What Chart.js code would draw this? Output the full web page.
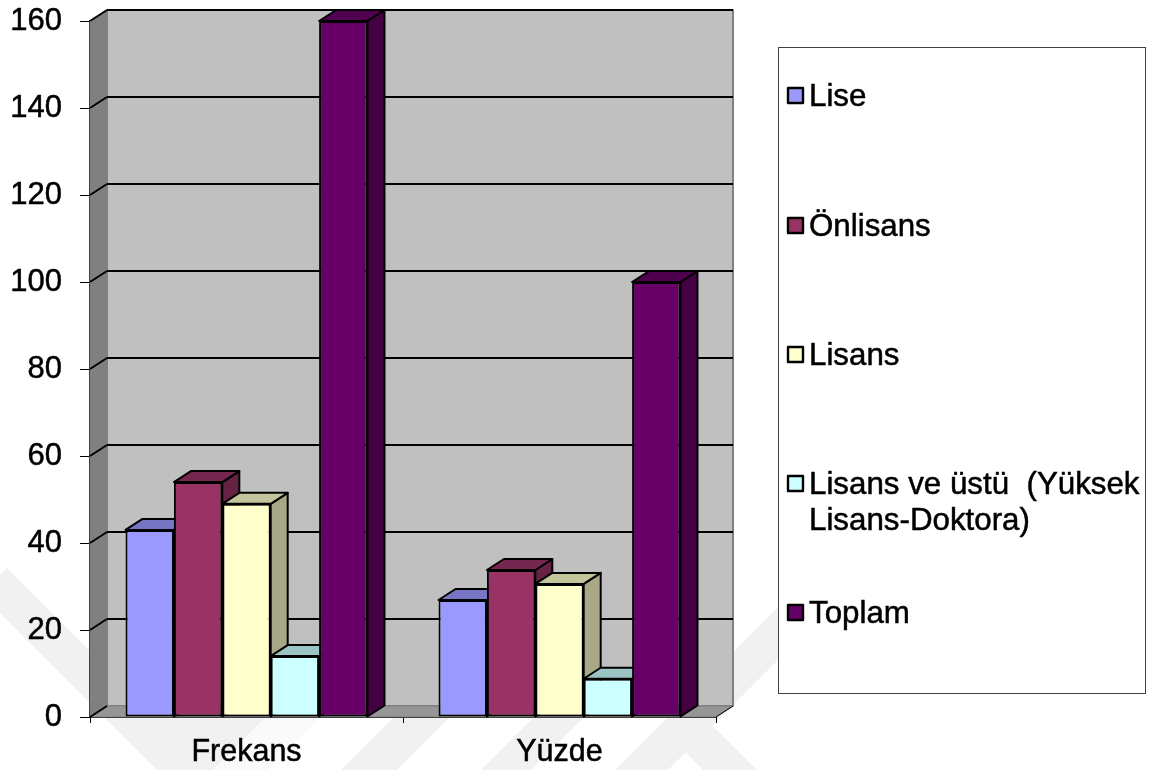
<!DOCTYPE html>
<html><head><meta charset="utf-8">
<style>html,body{margin:0;padding:0;background:#fff}#w{width:1158px;height:770px;position:relative}</style>
<script src="https://cdn.jsdelivr.net/npm/chart.js@4"></script>
</head><body><div id="w"><canvas id="c" width="1158" height="770"></canvas></div>
<script>
const categories = ['Frekans', 'Yüzde'];
const lise = [43, 26.9];
const onlisans = [54, 33.8];
const lisans = [49, 30.6];
const lisansUstu = [14, 8.8];
const toplam = [160, 100];
const seriesNames = ['Lise', 'Önlisans', 'Lisans', ['Lisans ve üstü  (Yüksek', 'Lisans-Doktora)'], 'Toplam'];
const seriesColors = ['#9999FF', '#993366', '#FFFFCC', '#CCFFFF', '#660066'];
const FONT = '"Liberation Sans", Arial, sans-serif';
const DX = 17, DY = -11;
const PLOT_TOP = 21;

function shade(hex, f) {
  const n = parseInt(hex.slice(1), 16);
  return 'rgb(' + [(n >> 16) & 255, (n >> 8) & 255, n & 255].map(v => Math.round(v * f)).join(',') + ')';
}
function poly(ctx, pts, fill, stroke, lw) {
  ctx.beginPath();
  pts.forEach((p, i) => i ? ctx.lineTo(p[0], p[1]) : ctx.moveTo(p[0], p[1]));
  ctx.closePath();
  if (fill) { ctx.fillStyle = fill; ctx.fill(); }
  if (stroke) { ctx.strokeStyle = stroke; ctx.lineWidth = lw; ctx.lineJoin = 'round'; ctx.stroke(); }
}
const plotTop = {
  id: 'plotTop',
  afterLayout(chart) {
    const a = chart.chartArea, y = chart.scales.y;
    a.top = PLOT_TOP; a.height = a.bottom - a.top;
    y.top = PLOT_TOP; y.height = y.bottom - y.top;
    y.configure();
  }
};
const watermark = {
  id: 'watermark',
  beforeDraw(chart) {
    const c = chart.ctx; c.save();
    c.fillStyle = '#fff'; c.fillRect(0, 0, 1158, 770);
    const col = '#f1f1f1';
    poly(c, [[7,568],[150,711],[272,711],[213,770],[157,770],[0,613],[0,575]], col);
    poly(c, [[272,711],[326,711],[267,770],[213,770]], '#fafafa');
    poly(c, [[400,711],[456,711],[397,770],[341,770]], col);
    poly(c, [[540,711],[590,711],[531,770],[481,770]], col);
    poly(c, [[817,568],[870,568],[668,770],[615,770]], col);
    poly(c, [[686,699],[771,784],[717,784],[660,727]], col);
    c.restore();
  }
};
const threeD = {
  id: 'threeD',
  beforeDatasetsDraw(chart) {
    const c = chart.ctx, a = chart.chartArea, y = chart.scales.y;
    c.save();
    poly(c, [[a.left + DX, a.top + DY], [a.right + DX, a.top + DY], [a.right + DX, a.bottom + DY], [a.left + DX, a.bottom + DY]], '#C0C0C0', '#808080', 2);
    poly(c, [[a.left, a.top], [a.left + DX, a.top + DY], [a.left + DX, a.bottom + DY], [a.left, a.bottom]], '#808080', '#808080', 1);
    poly(c, [[a.left, a.bottom], [a.right, a.bottom], [a.right + DX, a.bottom + DY], [a.left + DX, a.bottom + DY]], '#969696', '#808080', 1);
    c.strokeStyle = '#000'; c.lineWidth = 2;
    y.ticks.forEach(t => {
      const py = y.getPixelForValue(t.value);
      if (t.value > 0) {
        c.beginPath(); c.moveTo(a.left + DX, py + DY); c.lineTo(a.right + DX, py + DY); c.stroke();
      }
      c.beginPath(); c.moveTo(a.left, py); c.lineTo(a.left + DX, py + DY); c.stroke();
    });
    c.beginPath(); c.moveTo(a.right, a.bottom); c.lineTo(a.right + DX, a.bottom + DY); c.lineWidth = 1; c.stroke();
    chart.data.datasets.forEach((ds, i) => {
      const meta = chart.getDatasetMeta(i);
      meta.data.forEach(b => {
        const l = b.x - b.width / 2, r = b.x + b.width / 2, t = b.y, bt = b.base;
        poly(c, [[r, t], [r + DX, t + DY], [r + DX, bt + DY], [r, bt]], shade(ds.backgroundColor, 0.66), '#000', 2);
        poly(c, [[l, t], [l + DX, t + DY], [r + DX, t + DY], [r, t]], shade(ds.backgroundColor, 0.77), '#000', 2);
      });
      meta.controller.draw();
    });
    c.restore();
    return false;
  }
};
const legendBox = {
  id: 'legendBox',
  afterDraw(chart) {
    const c = chart.ctx; c.save();
    c.fillStyle = '#fff'; c.strokeStyle = '#404040'; c.lineWidth = 1;
    c.fillRect(778.5, 47.5, 367, 646); c.strokeRect(778.5, 47.5, 367, 646);
    const rows = [95, 225, 354, 483, 612];
    c.font = '31.3px ' + FONT; c.textBaseline = 'middle'; c.textAlign = 'left'; c.lineJoin = 'round';
    chart.data.datasets.forEach((ds, i) => {
      c.fillStyle = ds.backgroundColor; c.strokeStyle = '#000'; c.lineWidth = 2.4;
      c.fillRect(788, rows[i] - 7, 15, 15); c.strokeRect(788, rows[i] - 7, 15, 15);
      c.fillStyle = '#000'; c.lineWidth = 0.5;
      [].concat(ds.label).forEach((s, k) => {
        c.fillText(s, 809, rows[i] + 2 + k * 36);
        c.strokeText(s, 809, rows[i] + 2 + k * 36);
      });
    });
    c.restore();
  }
};
const values = [lise, onlisans, lisans, lisansUstu, toplam];
new Chart(document.getElementById('c'), {
  type: 'bar',
  data: {
    labels: categories,
    datasets: seriesNames.map((n, i) => ({
      label: n, data: values[i], backgroundColor: seriesColors[i],
      borderColor: '#000', borderWidth: 2, borderSkipped: false
    }))
  },
  plugins: [plotTop, watermark, threeD, legendBox],
  options: {
    responsive: false, animation: false, devicePixelRatio: 1,
    layout: { padding: { left: 0, right: 442, top: 21, bottom: 0 } },
    datasets: { bar: { categoryPercentage: 0.773, barPercentage: 1 } },
    plugins: { legend: { display: false }, tooltip: { enabled: false } },
    scales: {
      x: {
        afterFit(s) { s.height = 53; },
        grid: { drawOnChartArea: false, drawTicks: true, tickLength: 6, color: '#000', offset: true },
        border: { color: '#000', width: 2 },
        ticks: { color: '#000', padding: 11, textStrokeColor: '#000', textStrokeWidth: 0.5, font: { family: FONT, size: 30.5 } }
      },
      y: {
        min: 0, max: 160,
        afterFit(s) { s.width = 90; },
        grid: { drawOnChartArea: false, drawTicks: true, tickLength: 10, color: '#000' },
        border: { color: '#000', width: 2 },
        ticks: { stepSize: 20, color: '#000', padding: 18, textStrokeColor: '#000', textStrokeWidth: 0.5, font: { family: FONT, size: 31 } }
      }
    }
  }
});
</script></body></html>
